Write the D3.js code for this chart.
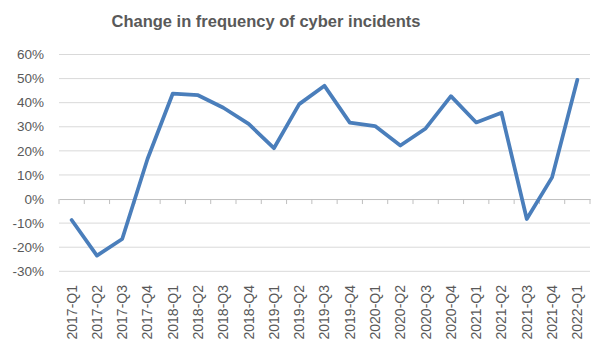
<!DOCTYPE html>
<html>
<head>
<meta charset="utf-8">
<script src="https://cdn.jsdelivr.net/npm/d3@7"></script>
<style>
  html, body { margin: 0; padding: 0; background: #fff; }
  svg { display: block; }
</style>
</head>
<body>
<script>
// Quarterly change in frequency of cyber incidents (%)
const quarters = [
  "2017-Q1", "2017-Q2", "2017-Q3", "2017-Q4",
  "2018-Q1", "2018-Q2", "2018-Q3", "2018-Q4",
  "2019-Q1", "2019-Q2", "2019-Q3", "2019-Q4",
  "2020-Q1", "2020-Q2", "2020-Q3", "2020-Q4",
  "2021-Q1", "2021-Q2", "2021-Q3", "2021-Q4",
  "2022-Q1"
];
const changePct = [
  -8.7, -23.5, -16.6, 16.6,
  43.8, 43.1, 37.9, 31.2,
  21.1, 39.4, 47.0, 31.7,
  30.3, 22.2, 29.3, 42.7,
  31.8, 35.8, -8.3, 9.0,
  49.5
];
const yTicks = [-30, -20, -10, 0, 10, 20, 30, 40, 50, 60];

const W = 598, H = 347;
const plot = { left: 59, right: 590, top: 54.5, bottom: 271.3 };

const svg = d3.select("body").append("svg")
  .attr("width", W).attr("height", H);

const x = d3.scaleBand().domain(quarters).range([plot.left, plot.right]);
const y = d3.scaleLinear().domain([-30, 60]).range([plot.bottom, plot.top]);

const textColor = "#595959";
const font = "'Liberation Sans', Arial, sans-serif";

// Title
svg.append("text")
  .attr("x", 266).attr("y", 27)
  .attr("text-anchor", "middle")
  .attr("font-family", font)
  .attr("font-weight", "bold")
  .attr("font-size", 16.5)
  .attr("fill", textColor)
  .text("Change in frequency of cyber incidents");

// Horizontal gridlines
svg.append("g").selectAll("line")
  .data(yTicks.filter(d => d !== 0))
  .join("line")
  .attr("x1", plot.left).attr("x2", plot.right)
  .attr("y1", d => y(d)).attr("y2", d => y(d))
  .attr("stroke", "#d9d9d9").attr("stroke-width", 1);

// Y axis labels
svg.append("g").selectAll("text")
  .data(yTicks)
  .join("text")
  .attr("x", 44).attr("y", d => y(d))
  .attr("dy", "0.35em")
  .attr("text-anchor", "end")
  .attr("font-family", font)
  .attr("font-size", 13.5)
  .attr("fill", textColor)
  .text(d => d + "%");

// Category axis at 0%
const xAxis = d3.axisBottom(x).tickSize(0).tickFormat("");
const axisG = svg.append("g")
  .attr("transform", `translate(0,${y(0)})`)
  .call(xAxis);
axisG.select(".domain").attr("stroke", "#bfbfbf");
const boundaries = quarters.map(q => x(q)).concat([x(quarters[quarters.length - 1]) + x.bandwidth()]);
axisG.selectAll("line.bound")
  .data(boundaries)
  .join("line")
  .attr("class", "bound")
  .attr("x1", d => d).attr("x2", d => d)
  .attr("y1", 0).attr("y2", 5)
  .attr("stroke", "#bfbfbf");

// Category labels below the plot, rotated
svg.append("g").selectAll("text")
  .data(quarters)
  .join("text")
  .attr("transform", d => `translate(${x(d) + x.bandwidth() / 2},285) rotate(-90)`)
  .attr("text-anchor", "end")
  .attr("dy", "0.35em")
  .attr("font-family", font)
  .attr("font-size", 14)
  .attr("fill", textColor)
  .text(d => d);

// Series line
const line = d3.line()
  .x((d, i) => x(quarters[i]) + x.bandwidth() / 2)
  .y(d => y(d));

svg.append("path")
  .datum(changePct)
  .attr("d", line)
  .attr("fill", "none")
  .attr("stroke", "#4a7ebb")
  .attr("stroke-width", 3.75)
  .attr("stroke-linejoin", "round")
  .attr("stroke-linecap", "round");
</script>
</body>
</html>
